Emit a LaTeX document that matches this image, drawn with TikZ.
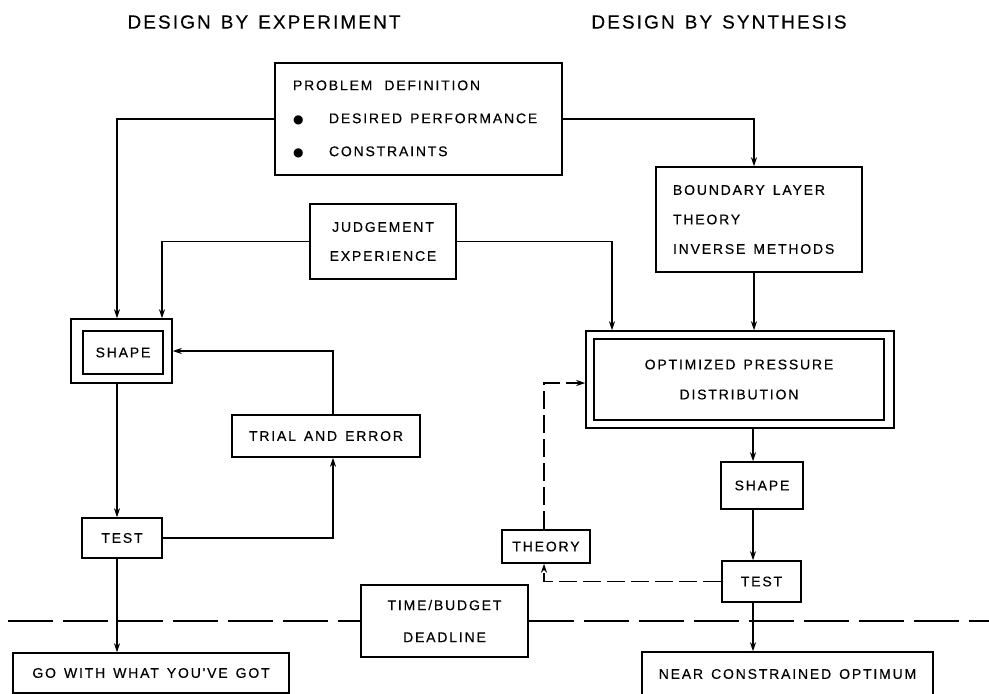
\documentclass[tikz,border=0pt]{standalone}
\usepackage{fontspec}
\setmainfont{Liberation Sans}
\newfontfamily\boxfont{Liberation Sans}[LetterSpace=13, FakeBold=0.4]
\newfontfamily\titlefont{Liberation Sans}[LetterSpace=11, FakeBold=0.3]
\newfontfamily\symfont{DejaVu Sans}
\usetikzlibrary{arrows.meta}
\newcommand\bulletmark{\makebox[36pt][l]{{\symfont\fontsize{12}{12}\selectfont ●}}}
\newcommand\gap{\hspace{8pt}}
\begin{document}
\begin{tikzpicture}[x=1pt,y=-1pt,
  box/.style={draw, line width=1.5pt, inner sep=0pt, align=center,
    font=\boxfont\fontsize{14}{30}\selectfont},
  plain/.style={draw, line width=1.5pt, inner sep=0pt},
  ttl/.style={inner sep=0pt, font=\titlefont\fontsize{19}{21}\selectfont},
  conn/.style={line width=1.3pt, -{Stealth[length=9pt,width=6pt]}},
  dconn/.style={conn, dash pattern=on 18pt off 6pt},
  dline/.style={line width=1.8pt, dash pattern=on 45pt off 10pt}]
\useasboundingbox (0,0) rectangle (989,694);
% titles
\node[ttl] (t1) at (264,22) {DESIGN\hspace{10pt}BY\hspace{10pt}EXPERIMENT};
\node[ttl] (t2) at (719,22) {DESIGN\hspace{10pt}BY\hspace{10pt}SYNTHESIS};
% boxes
\node[box, align=left, text width=251pt, inner xsep=18pt, minimum height=112pt,
  font=\boxfont\fontsize{14}{33}\selectfont] (prob) at (418.5,119)
  {PROBLEM\hspace{12pt}DEFINITION\\\bulletmark DESIRED\gap PERFORMANCE\\\bulletmark CONSTRAINTS};
\node[box, align=left, text width=172pt, inner xsep=17pt, minimum height=105pt,
  font=\boxfont\fontsize{14}{29.5}\selectfont] (bl) at (759,219.5)
  {BOUNDARY\gap LAYER\\THEORY\\INVERSE\gap METHODS};
\node[box, minimum width=146pt, minimum height=75pt,
  font=\boxfont\fontsize{14}{29}\selectfont] (judg) at (383,241.5)
  {JUDGEMENT\\EXPERIENCE};
\node[plain, minimum width=101pt, minimum height=64pt] (shapeLo) at (121.5,351) {};
\node[box, minimum width=80pt, minimum height=43pt] (shapeL) at (123,352.5) {SHAPE};
\node[box, minimum width=188pt, minimum height=42pt] (trial) at (326,436) {TRIAL\gap AND\gap ERROR};
\node[box, minimum width=80pt, minimum height=40pt] (testL) at (122,538) {TEST};
\node[box, minimum width=276pt, minimum height=40pt] (go) at (151,673) {GO\gap WITH\gap WHAT\gap YOU'VE\gap GOT};
\node[box, minimum width=167pt, minimum height=72pt,
  font=\boxfont\fontsize{14}{32}\selectfont] (time) at (444.5,621)
  {TIME/BUDGET\\DEADLINE};
\node[plain, minimum width=308pt, minimum height=97pt] (optO) at (740,379.5) {};
\node[box, minimum width=290pt, minimum height=81pt,
  font=\boxfont\fontsize{14}{30}\selectfont] (opt) at (739,379.5)
  {OPTIMIZED\gap PRESSURE\\DISTRIBUTION};
\node[box, minimum width=82pt, minimum height=47pt] (shapeR) at (762,485.5) {SHAPE};
\node[box, minimum width=79pt, minimum height=41pt] (testR) at (761.5,581.5) {TEST};
\node[box, minimum width=291pt, minimum height=44pt] (near) at (787.5,674) {NEAR\gap CONSTRAINED\gap OPTIMUM};
\node[box, minimum width=88pt, minimum height=33pt] (theory) at (546,546.5) {THEORY};
% connectors
\draw[conn] (prob.west) -| ([xshift=-4.5pt]shapeLo.north);
\draw[conn] (judg.west) -| ([xshift=40.5pt]shapeLo.north);
\draw[conn] (judg.east) -| ([xshift=-128pt]optO.north);
\draw[conn] (prob.east) -| ([xshift=-5pt]bl.north);
\draw[conn] ([xshift=-5pt]bl.south) -- ([xshift=14pt]optO.north);
\draw[conn] ([xshift=13pt]optO.south) -- ([xshift=-9pt]shapeR.north);
\draw[conn] ([xshift=-9pt]shapeR.south) -- ([xshift=-8.5pt]testR.north);
\draw[conn] ([xshift=-8.5pt]testR.south) -- ([xshift=-34.5pt]near.north);
\draw[dconn] (testR.west) -| ([xshift=-2pt]theory.south);
\draw[dconn] ([xshift=-2pt]theory.north) |- ([yshift=-3.5pt]optO.west);
\draw[conn] ([xshift=-4.5pt]shapeLo.south) -- ([xshift=-5pt]testL.north);
\draw[conn] ([xshift=-5pt]testL.south) -- ([xshift=-34pt]go.north);
\draw[conn] (testL.east) -| ([xshift=7pt]trial.south);
\draw[conn] ([xshift=7pt]trial.north) |- (shapeLo.east);
% deadline line
\coordinate (lft) at (8,621);
\coordinate (rgt) at (989,621);
\draw[dline] (lft) -- (time.west);
\draw[dline] (time.east) -- (rgt);
\end{tikzpicture}
\end{document}
